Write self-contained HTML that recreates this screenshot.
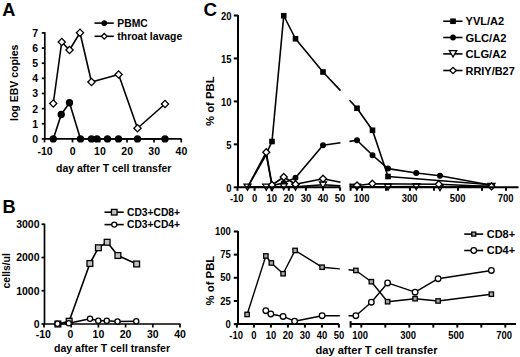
<!DOCTYPE html>
<html><head><meta charset="utf-8"><title>Figure</title>
<style>
html,body{margin:0;padding:0;background:#fff;}
body{width:520px;height:357px;overflow:hidden;font-family:'Liberation Sans', sans-serif;}
svg{display:block;}
svg text{font-family:'Liberation Sans',sans-serif;fill:#000;}
</style></head><body>
<svg width="520" height="357" viewBox="0 0 520 357">
<rect width="520" height="357" fill="#fff"/>
<text x="2.30" y="15.60" font-size="18.2" font-weight="bold" text-anchor="start">A</text>
<line x1="44.80" y1="32.12" x2="44.80" y2="139.70" stroke="#000" stroke-width="1.7"/>
<line x1="44.20" y1="138.90" x2="181.50" y2="138.90" stroke="#000" stroke-width="1.7"/>
<line x1="41.80" y1="138.90" x2="44.80" y2="138.90" stroke="#000" stroke-width="1.7"/>
<text x="38.00" y="142.86" font-size="10.5" font-weight="bold" text-anchor="end">0</text>
<line x1="41.80" y1="123.76" x2="44.80" y2="123.76" stroke="#000" stroke-width="1.7"/>
<text x="38.00" y="127.72" font-size="10.5" font-weight="bold" text-anchor="end">1</text>
<line x1="41.80" y1="108.62" x2="44.80" y2="108.62" stroke="#000" stroke-width="1.7"/>
<text x="38.00" y="112.58" font-size="10.5" font-weight="bold" text-anchor="end">2</text>
<line x1="41.80" y1="93.48" x2="44.80" y2="93.48" stroke="#000" stroke-width="1.7"/>
<text x="38.00" y="97.44" font-size="10.5" font-weight="bold" text-anchor="end">3</text>
<line x1="41.80" y1="78.34" x2="44.80" y2="78.34" stroke="#000" stroke-width="1.7"/>
<text x="38.00" y="82.30" font-size="10.5" font-weight="bold" text-anchor="end">4</text>
<line x1="41.80" y1="63.20" x2="44.80" y2="63.20" stroke="#000" stroke-width="1.7"/>
<text x="38.00" y="67.16" font-size="10.5" font-weight="bold" text-anchor="end">5</text>
<line x1="41.80" y1="48.06" x2="44.80" y2="48.06" stroke="#000" stroke-width="1.7"/>
<text x="38.00" y="52.02" font-size="10.5" font-weight="bold" text-anchor="end">6</text>
<line x1="41.80" y1="32.92" x2="44.80" y2="32.92" stroke="#000" stroke-width="1.7"/>
<text x="38.00" y="36.88" font-size="10.5" font-weight="bold" text-anchor="end">7</text>
<line x1="44.50" y1="138.90" x2="44.50" y2="142.40" stroke="#000" stroke-width="1.7"/>
<text x="45.00" y="154.96" font-size="10.5" font-weight="bold" text-anchor="middle">-10</text>
<line x1="72.50" y1="138.90" x2="72.50" y2="142.40" stroke="#000" stroke-width="1.7"/>
<text x="72.70" y="154.96" font-size="10.5" font-weight="bold" text-anchor="middle">0</text>
<line x1="99.75" y1="138.90" x2="99.75" y2="142.40" stroke="#000" stroke-width="1.7"/>
<text x="99.95" y="154.96" font-size="10.5" font-weight="bold" text-anchor="middle">10</text>
<line x1="127.00" y1="138.90" x2="127.00" y2="142.40" stroke="#000" stroke-width="1.7"/>
<text x="127.20" y="154.96" font-size="10.5" font-weight="bold" text-anchor="middle">20</text>
<line x1="154.00" y1="138.90" x2="154.00" y2="142.40" stroke="#000" stroke-width="1.7"/>
<text x="154.20" y="154.96" font-size="10.5" font-weight="bold" text-anchor="middle">30</text>
<line x1="181.25" y1="138.90" x2="181.25" y2="142.40" stroke="#000" stroke-width="1.7"/>
<text x="181.45" y="154.96" font-size="10.5" font-weight="bold" text-anchor="middle">40</text>
<text x="113.70" y="172.00" font-size="10.3" font-weight="bold" text-anchor="middle" textLength="115.2" lengthAdjust="spacingAndGlyphs">day after T cell transfer</text>
<text x="17.60" y="82.80" font-size="10.4" font-weight="bold" text-anchor="middle" textLength="76.5" lengthAdjust="spacingAndGlyphs" transform="rotate(-90 17.60 82.80)">log EBV copies</text>
<polyline points="53.25,103.50 61.75,42.00 69.50,50.00 80.00,32.75 91.50,82.00 118.60,74.50 137.50,128.25 165.00,104.00" fill="none" stroke="#000" stroke-width="1.6" stroke-linejoin="round"/>
<polyline points="53.25,138.90 61.25,114.50 69.50,102.75 80.50,138.90 91.50,138.90 97.00,138.90 107.50,138.90 118.50,138.90 137.50,138.90 165.00,138.90" fill="none" stroke="#000" stroke-width="1.6" stroke-linejoin="round"/>
<circle cx="53.25" cy="138.90" r="3.0" fill="#000" stroke="#000" stroke-width="1.3"/>
<circle cx="61.25" cy="114.50" r="3.0" fill="#000" stroke="#000" stroke-width="1.3"/>
<circle cx="69.50" cy="102.75" r="3.0" fill="#000" stroke="#000" stroke-width="1.3"/>
<circle cx="80.50" cy="138.90" r="3.0" fill="#000" stroke="#000" stroke-width="1.3"/>
<circle cx="91.50" cy="138.90" r="3.0" fill="#000" stroke="#000" stroke-width="1.3"/>
<circle cx="97.00" cy="138.90" r="3.0" fill="#000" stroke="#000" stroke-width="1.3"/>
<circle cx="107.50" cy="138.90" r="3.0" fill="#000" stroke="#000" stroke-width="1.3"/>
<circle cx="118.50" cy="138.90" r="3.0" fill="#000" stroke="#000" stroke-width="1.3"/>
<circle cx="137.50" cy="138.90" r="3.0" fill="#000" stroke="#000" stroke-width="1.3"/>
<circle cx="165.00" cy="138.90" r="3.0" fill="#000" stroke="#000" stroke-width="1.3"/>
<polygon points="49.65,103.50 53.25,99.90 56.85,103.50 53.25,107.10" fill="#fff" stroke="#000" stroke-width="1.3"/>
<polygon points="58.15,42.00 61.75,38.40 65.35,42.00 61.75,45.60" fill="#fff" stroke="#000" stroke-width="1.3"/>
<polygon points="65.90,50.00 69.50,46.40 73.10,50.00 69.50,53.60" fill="#fff" stroke="#000" stroke-width="1.3"/>
<polygon points="76.40,32.75 80.00,29.15 83.60,32.75 80.00,36.35" fill="#fff" stroke="#000" stroke-width="1.3"/>
<polygon points="87.90,82.00 91.50,78.40 95.10,82.00 91.50,85.60" fill="#fff" stroke="#000" stroke-width="1.3"/>
<polygon points="115.00,74.50 118.60,70.90 122.20,74.50 118.60,78.10" fill="#fff" stroke="#000" stroke-width="1.3"/>
<polygon points="133.90,128.25 137.50,124.65 141.10,128.25 137.50,131.85" fill="#fff" stroke="#000" stroke-width="1.3"/>
<polygon points="161.40,104.00 165.00,100.40 168.60,104.00 165.00,107.60" fill="#fff" stroke="#000" stroke-width="1.3"/>
<line x1="94.50" y1="23.10" x2="113.75" y2="23.10" stroke="#000" stroke-width="1.6"/>
<circle cx="104.25" cy="23.10" r="2.25" fill="#000" stroke="#000" stroke-width="1.3"/>
<text x="117.30" y="26.82" font-size="10.4" font-weight="bold" text-anchor="start" textLength="30.5" lengthAdjust="spacingAndGlyphs">PBMC</text>
<line x1="94.50" y1="36.30" x2="113.75" y2="36.30" stroke="#000" stroke-width="1.6"/>
<polygon points="101.45,36.30 104.25,33.50 107.05,36.30 104.25,39.10" fill="#fff" stroke="#000" stroke-width="1.3"/>
<text x="117.30" y="40.02" font-size="10.4" font-weight="bold" text-anchor="start" textLength="65" lengthAdjust="spacingAndGlyphs">throat lavage</text>
<text x="2.60" y="212.60" font-size="18.2" font-weight="bold" text-anchor="start">B</text>
<line x1="44.50" y1="223.65" x2="44.50" y2="324.60" stroke="#000" stroke-width="1.7"/>
<line x1="43.90" y1="324.00" x2="180.50" y2="324.00" stroke="#000" stroke-width="1.7"/>
<line x1="41.50" y1="324.00" x2="44.50" y2="324.00" stroke="#000" stroke-width="1.7"/>
<text x="39.50" y="327.76" font-size="10.5" font-weight="bold" text-anchor="end">0</text>
<line x1="41.50" y1="290.75" x2="44.50" y2="290.75" stroke="#000" stroke-width="1.7"/>
<text x="39.50" y="294.51" font-size="10.5" font-weight="bold" text-anchor="end">1000</text>
<line x1="41.50" y1="257.50" x2="44.50" y2="257.50" stroke="#000" stroke-width="1.7"/>
<text x="39.50" y="261.26" font-size="10.5" font-weight="bold" text-anchor="end">2000</text>
<line x1="41.50" y1="224.25" x2="44.50" y2="224.25" stroke="#000" stroke-width="1.7"/>
<text x="39.50" y="228.01" font-size="10.5" font-weight="bold" text-anchor="end">3000</text>
<line x1="44.00" y1="324.00" x2="44.00" y2="327.50" stroke="#000" stroke-width="1.7"/>
<text x="43.30" y="338.26" font-size="10.5" font-weight="bold" text-anchor="middle">-10</text>
<line x1="71.20" y1="324.00" x2="71.20" y2="327.50" stroke="#000" stroke-width="1.7"/>
<text x="70.30" y="338.26" font-size="10.5" font-weight="bold" text-anchor="middle">0</text>
<line x1="98.40" y1="324.00" x2="98.40" y2="327.50" stroke="#000" stroke-width="1.7"/>
<text x="98.40" y="338.26" font-size="10.5" font-weight="bold" text-anchor="middle">10</text>
<line x1="125.60" y1="324.00" x2="125.60" y2="327.50" stroke="#000" stroke-width="1.7"/>
<text x="125.60" y="338.26" font-size="10.5" font-weight="bold" text-anchor="middle">20</text>
<line x1="152.80" y1="324.00" x2="152.80" y2="327.50" stroke="#000" stroke-width="1.7"/>
<text x="152.80" y="338.26" font-size="10.5" font-weight="bold" text-anchor="middle">30</text>
<line x1="180.00" y1="324.00" x2="180.00" y2="327.50" stroke="#000" stroke-width="1.7"/>
<text x="180.00" y="338.26" font-size="10.5" font-weight="bold" text-anchor="middle">40</text>
<text x="112.00" y="351.80" font-size="10.3" font-weight="bold" text-anchor="middle" textLength="116" lengthAdjust="spacingAndGlyphs">day after T cell transfer</text>
<text x="10.20" y="270.80" font-size="10.4" font-weight="bold" text-anchor="middle" textLength="35.3" lengthAdjust="spacingAndGlyphs" transform="rotate(-90 10.20 270.80)">cells/ul</text>
<polyline points="57.90,324.00 69.15,321.25 89.90,263.50 98.40,247.75 107.15,242.25 117.90,255.50 136.65,264.00" fill="none" stroke="#000" stroke-width="1.6" stroke-linejoin="round"/>
<rect x="55.00" y="321.10" width="5.8" height="5.8" fill="#c0c0c0" stroke="#000" stroke-width="1.3"/>
<rect x="66.25" y="318.35" width="5.8" height="5.8" fill="#c0c0c0" stroke="#000" stroke-width="1.3"/>
<rect x="87.00" y="260.60" width="5.8" height="5.8" fill="#c0c0c0" stroke="#000" stroke-width="1.3"/>
<rect x="95.50" y="244.85" width="5.8" height="5.8" fill="#c0c0c0" stroke="#000" stroke-width="1.3"/>
<rect x="104.25" y="239.35" width="5.8" height="5.8" fill="#c0c0c0" stroke="#000" stroke-width="1.3"/>
<rect x="115.00" y="252.60" width="5.8" height="5.8" fill="#c0c0c0" stroke="#000" stroke-width="1.3"/>
<rect x="133.75" y="261.10" width="5.8" height="5.8" fill="#c0c0c0" stroke="#000" stroke-width="1.3"/>
<polyline points="57.50,323.70 68.75,323.25 90.00,318.75 98.25,320.75 106.75,320.75 117.50,321.50 136.25,321.25" fill="none" stroke="#000" stroke-width="1.6" stroke-linejoin="round"/>
<circle cx="57.50" cy="323.70" r="2.6" fill="#fff" stroke="#000" stroke-width="1.3"/>
<circle cx="68.75" cy="323.25" r="2.6" fill="#fff" stroke="#000" stroke-width="1.3"/>
<circle cx="90.00" cy="318.75" r="2.6" fill="#fff" stroke="#000" stroke-width="1.3"/>
<circle cx="98.25" cy="320.75" r="2.6" fill="#fff" stroke="#000" stroke-width="1.3"/>
<circle cx="106.75" cy="320.75" r="2.6" fill="#fff" stroke="#000" stroke-width="1.3"/>
<circle cx="117.50" cy="321.50" r="2.6" fill="#fff" stroke="#000" stroke-width="1.3"/>
<circle cx="136.25" cy="321.25" r="2.6" fill="#fff" stroke="#000" stroke-width="1.3"/>
<line x1="104.50" y1="212.20" x2="123.75" y2="212.20" stroke="#000" stroke-width="1.6"/>
<rect x="111.45" y="209.40" width="5.6" height="5.6" fill="#c0c0c0" stroke="#000" stroke-width="1.3"/>
<text x="127.00" y="216.09" font-size="10.3" font-weight="bold" text-anchor="start" textLength="53" lengthAdjust="spacingAndGlyphs">CD3+CD8+</text>
<line x1="104.50" y1="224.60" x2="123.75" y2="224.60" stroke="#000" stroke-width="1.6"/>
<circle cx="114.25" cy="224.60" r="2.5" fill="#fff" stroke="#000" stroke-width="1.3"/>
<text x="127.00" y="228.49" font-size="10.3" font-weight="bold" text-anchor="start" textLength="53" lengthAdjust="spacingAndGlyphs">CD3+CD4+</text>
<text x="203.50" y="15.70" font-size="18.8" font-weight="bold" text-anchor="start">C</text>
<line x1="238.00" y1="14.90" x2="238.00" y2="187.90" stroke="#000" stroke-width="2.0"/>
<line x1="233.80" y1="187.30" x2="238.00" y2="187.30" stroke="#000" stroke-width="2.0"/>
<text transform="translate(231.50 191.56) scale(0.9 1)" font-size="10.5" font-weight="bold" text-anchor="end">0</text>
<line x1="233.80" y1="144.35" x2="238.00" y2="144.35" stroke="#000" stroke-width="2.0"/>
<text transform="translate(231.50 148.61) scale(0.9 1)" font-size="10.5" font-weight="bold" text-anchor="end">5</text>
<line x1="233.80" y1="101.40" x2="238.00" y2="101.40" stroke="#000" stroke-width="2.0"/>
<text transform="translate(231.50 105.66) scale(0.9 1)" font-size="10.5" font-weight="bold" text-anchor="end">10</text>
<line x1="233.80" y1="58.45" x2="238.00" y2="58.45" stroke="#000" stroke-width="2.0"/>
<text transform="translate(231.50 62.71) scale(0.9 1)" font-size="10.5" font-weight="bold" text-anchor="end">15</text>
<line x1="233.80" y1="15.50" x2="238.00" y2="15.50" stroke="#000" stroke-width="2.0"/>
<text transform="translate(231.50 19.76) scale(0.9 1)" font-size="10.5" font-weight="bold" text-anchor="end">20</text>
<line x1="237.50" y1="187.30" x2="237.50" y2="190.80" stroke="#000" stroke-width="2.0"/>
<text transform="translate(236.70 202.16) scale(0.9 1)" font-size="10.5" font-weight="bold" text-anchor="middle">-10</text>
<line x1="254.60" y1="187.30" x2="254.60" y2="190.80" stroke="#000" stroke-width="2.0"/>
<text transform="translate(254.60 202.16) scale(0.9 1)" font-size="10.5" font-weight="bold" text-anchor="middle">0</text>
<line x1="271.70" y1="187.30" x2="271.70" y2="190.80" stroke="#000" stroke-width="2.0"/>
<text transform="translate(271.70 202.16) scale(0.9 1)" font-size="10.5" font-weight="bold" text-anchor="middle">10</text>
<line x1="288.80" y1="187.30" x2="288.80" y2="190.80" stroke="#000" stroke-width="2.0"/>
<text transform="translate(288.80 202.16) scale(0.9 1)" font-size="10.5" font-weight="bold" text-anchor="middle">20</text>
<line x1="305.90" y1="187.30" x2="305.90" y2="190.80" stroke="#000" stroke-width="2.0"/>
<text transform="translate(305.90 202.16) scale(0.9 1)" font-size="10.5" font-weight="bold" text-anchor="middle">30</text>
<line x1="323.00" y1="187.30" x2="323.00" y2="190.80" stroke="#000" stroke-width="2.0"/>
<text transform="translate(323.00 202.16) scale(0.9 1)" font-size="10.5" font-weight="bold" text-anchor="middle">40</text>
<line x1="340.10" y1="187.30" x2="340.10" y2="190.80" stroke="#000" stroke-width="2.0"/>
<text transform="translate(340.10 202.16) scale(0.9 1)" font-size="10.5" font-weight="bold" text-anchor="middle">50</text>
<line x1="350.60" y1="184.30" x2="350.60" y2="190.80" stroke="#000" stroke-width="2.0"/>
<line x1="362.00" y1="187.30" x2="362.00" y2="190.80" stroke="#000" stroke-width="2.0"/>
<text transform="translate(361.50 202.16) scale(0.9 1)" font-size="10.5" font-weight="bold" text-anchor="middle">100</text>
<line x1="386.00" y1="187.30" x2="386.00" y2="190.80" stroke="#000" stroke-width="2.0"/>
<line x1="410.00" y1="187.30" x2="410.00" y2="190.80" stroke="#000" stroke-width="2.0"/>
<text transform="translate(409.50 202.16) scale(0.9 1)" font-size="10.5" font-weight="bold" text-anchor="middle">300</text>
<line x1="434.00" y1="187.30" x2="434.00" y2="190.80" stroke="#000" stroke-width="2.0"/>
<line x1="458.00" y1="187.30" x2="458.00" y2="190.80" stroke="#000" stroke-width="2.0"/>
<text transform="translate(457.50 202.16) scale(0.9 1)" font-size="10.5" font-weight="bold" text-anchor="middle">500</text>
<line x1="482.00" y1="187.30" x2="482.00" y2="190.80" stroke="#000" stroke-width="2.0"/>
<line x1="506.00" y1="187.30" x2="506.00" y2="190.80" stroke="#000" stroke-width="2.0"/>
<text transform="translate(505.50 202.16) scale(0.9 1)" font-size="10.5" font-weight="bold" text-anchor="middle">700</text>
<text x="214.30" y="101.20" font-size="10.8" font-weight="bold" text-anchor="middle" textLength="49.6" lengthAdjust="spacingAndGlyphs" transform="rotate(-90 214.30 101.20)">% of PBL</text>
<polyline points="266.25,153.80 272.00,141.50 283.75,15.75 295.50,38.75 323.00,72.00 340.50,90.66" fill="none" stroke="#000" stroke-width="1.6" stroke-linejoin="round"/>
<polyline points="349.50,100.25 357.00,108.25 372.50,130.25 388.00,176.50 491.50,184.70" fill="none" stroke="#000" stroke-width="1.6" stroke-linejoin="round"/>
<rect x="269.85" y="139.35" width="4.3" height="4.3" fill="#000" stroke="#000" stroke-width="1.3"/>
<rect x="281.60" y="13.60" width="4.3" height="4.3" fill="#000" stroke="#000" stroke-width="1.3"/>
<rect x="293.35" y="36.60" width="4.3" height="4.3" fill="#000" stroke="#000" stroke-width="1.3"/>
<rect x="320.85" y="69.85" width="4.3" height="4.3" fill="#000" stroke="#000" stroke-width="1.3"/>
<rect x="354.85" y="106.10" width="4.3" height="4.3" fill="#000" stroke="#000" stroke-width="1.3"/>
<rect x="370.35" y="128.10" width="4.3" height="4.3" fill="#000" stroke="#000" stroke-width="1.3"/>
<rect x="385.85" y="174.35" width="4.3" height="4.3" fill="#000" stroke="#000" stroke-width="1.3"/>
<polyline points="247.50,187.30 266.25,154.66 272.00,185.58 283.75,183.01 295.50,177.85 323.00,145.25 340.50,142.68" fill="none" stroke="#000" stroke-width="1.6" stroke-linejoin="round"/>
<polyline points="349.50,141.35 357.00,140.25 372.50,155.25 388.00,168.60 416.25,173.00 440.00,175.80 491.50,185.30" fill="none" stroke="#000" stroke-width="1.6" stroke-linejoin="round"/>
<circle cx="283.75" cy="183.01" r="2.35" fill="#000" stroke="#000" stroke-width="1.3"/>
<circle cx="295.50" cy="177.85" r="2.35" fill="#000" stroke="#000" stroke-width="1.3"/>
<circle cx="323.00" cy="145.25" r="2.35" fill="#000" stroke="#000" stroke-width="1.3"/>
<circle cx="357.00" cy="140.25" r="2.35" fill="#000" stroke="#000" stroke-width="1.3"/>
<circle cx="372.50" cy="155.25" r="2.35" fill="#000" stroke="#000" stroke-width="1.3"/>
<circle cx="388.00" cy="168.60" r="2.35" fill="#000" stroke="#000" stroke-width="1.3"/>
<circle cx="416.25" cy="173.00" r="2.35" fill="#000" stroke="#000" stroke-width="1.3"/>
<circle cx="440.00" cy="175.80" r="2.35" fill="#000" stroke="#000" stroke-width="1.3"/>
<polyline points="247.50,186.87 266.25,186.87 272.00,187.30 283.75,186.44 295.50,186.87 323.00,184.72 340.50,185.83" fill="none" stroke="#000" stroke-width="1.6" stroke-linejoin="round"/>
<polyline points="349.50,186.40 357.00,186.87 388.00,186.87 416.25,186.44 440.00,187.30 491.50,186.01" fill="none" stroke="#000" stroke-width="1.6" stroke-linejoin="round"/>
<polygon points="244.00,184.17 251.00,184.17 247.50,190.17" fill="#fff" stroke="#000" stroke-width="1.3" stroke-linejoin="miter"/>
<polygon points="262.75,184.17 269.75,184.17 266.25,190.17" fill="#fff" stroke="#000" stroke-width="1.3" stroke-linejoin="miter"/>
<polygon points="268.50,184.60 275.50,184.60 272.00,190.60" fill="#fff" stroke="#000" stroke-width="1.3" stroke-linejoin="miter"/>
<polygon points="280.25,183.74 287.25,183.74 283.75,189.74" fill="#fff" stroke="#000" stroke-width="1.3" stroke-linejoin="miter"/>
<polygon points="292.00,184.17 299.00,184.17 295.50,190.17" fill="#fff" stroke="#000" stroke-width="1.3" stroke-linejoin="miter"/>
<polygon points="319.50,182.02 326.50,182.02 323.00,188.02" fill="#fff" stroke="#000" stroke-width="1.3" stroke-linejoin="miter"/>
<polygon points="353.50,184.17 360.50,184.17 357.00,190.17" fill="#fff" stroke="#000" stroke-width="1.3" stroke-linejoin="miter"/>
<polygon points="384.50,184.17 391.50,184.17 388.00,190.17" fill="#fff" stroke="#000" stroke-width="1.3" stroke-linejoin="miter"/>
<polygon points="412.75,183.74 419.75,183.74 416.25,189.74" fill="#fff" stroke="#000" stroke-width="1.3" stroke-linejoin="miter"/>
<polygon points="436.50,184.60 443.50,184.60 440.00,190.60" fill="#fff" stroke="#000" stroke-width="1.3" stroke-linejoin="miter"/>
<polygon points="488.00,183.31 495.00,183.31 491.50,189.31" fill="#fff" stroke="#000" stroke-width="1.3" stroke-linejoin="miter"/>
<polyline points="247.50,187.30 266.25,152.25 272.00,185.00 283.75,177.00 295.50,184.25 323.00,178.75 340.50,182.22" fill="none" stroke="#000" stroke-width="1.6" stroke-linejoin="round"/>
<polyline points="349.50,184.01 357.00,185.50 372.30,183.75 438.75,184.20 491.50,186.44" fill="none" stroke="#000" stroke-width="1.6" stroke-linejoin="round"/>
<polygon points="262.75,152.25 266.25,148.75 269.75,152.25 266.25,155.75" fill="#fff" stroke="#000" stroke-width="1.3"/>
<polygon points="268.50,185.00 272.00,181.50 275.50,185.00 272.00,188.50" fill="#fff" stroke="#000" stroke-width="1.3"/>
<polygon points="280.25,177.00 283.75,173.50 287.25,177.00 283.75,180.50" fill="#fff" stroke="#000" stroke-width="1.3"/>
<polygon points="292.00,184.25 295.50,180.75 299.00,184.25 295.50,187.75" fill="#fff" stroke="#000" stroke-width="1.3"/>
<polygon points="319.50,178.75 323.00,175.25 326.50,178.75 323.00,182.25" fill="#fff" stroke="#000" stroke-width="1.3"/>
<polygon points="353.50,185.50 357.00,182.00 360.50,185.50 357.00,189.00" fill="#fff" stroke="#000" stroke-width="1.3"/>
<polygon points="368.80,183.75 372.30,180.25 375.80,183.75 372.30,187.25" fill="#fff" stroke="#000" stroke-width="1.3"/>
<polygon points="435.25,184.20 438.75,180.70 442.25,184.20 438.75,187.70" fill="#fff" stroke="#000" stroke-width="1.3"/>
<polygon points="488.00,186.44 491.50,182.94 495.00,186.44 491.50,189.94" fill="#fff" stroke="#000" stroke-width="1.3"/>
<line x1="237.40" y1="187.30" x2="340.00" y2="187.30" stroke="#000" stroke-width="2.0"/>
<line x1="350.00" y1="187.30" x2="518.50" y2="187.30" stroke="#000" stroke-width="2.0"/>
<line x1="443.25" y1="21.25" x2="462.50" y2="21.25" stroke="#000" stroke-width="1.6"/>
<rect x="450.85" y="19.10" width="4.3" height="4.3" fill="#000" stroke="#000" stroke-width="1.3"/>
<line x1="443.25" y1="37.50" x2="462.50" y2="37.50" stroke="#000" stroke-width="1.6"/>
<circle cx="453.00" cy="37.50" r="2.25" fill="#000" stroke="#000" stroke-width="1.3"/>
<line x1="443.25" y1="53.90" x2="462.50" y2="53.90" stroke="#000" stroke-width="1.6"/>
<polygon points="449.30,50.62 456.70,50.62 453.00,57.02" fill="#fff" stroke="#000" stroke-width="1.3" stroke-linejoin="miter"/>
<line x1="443.25" y1="70.50" x2="462.50" y2="70.50" stroke="#000" stroke-width="1.6"/>
<polygon points="449.80,70.50 453.00,67.30 456.20,70.50 453.00,73.70" fill="#fff" stroke="#000" stroke-width="1.3"/>
<text x="465.50" y="25.39" font-size="11" font-weight="bold" text-anchor="start" textLength="38.75" lengthAdjust="spacingAndGlyphs">YVL/A2</text>
<text x="465.50" y="41.64" font-size="11" font-weight="bold" text-anchor="start" textLength="41.0" lengthAdjust="spacingAndGlyphs">GLC/A2</text>
<text x="465.50" y="58.04" font-size="11" font-weight="bold" text-anchor="start" textLength="41.0" lengthAdjust="spacingAndGlyphs">CLG/A2</text>
<text x="465.50" y="74.64" font-size="11" font-weight="bold" text-anchor="start" textLength="49.25" lengthAdjust="spacingAndGlyphs">RRIY/B27</text>
<g transform="translate(0,0.5)">
<line x1="238.00" y1="230.40" x2="238.00" y2="324.20" stroke="#000" stroke-width="2.0"/>
<line x1="237.40" y1="323.60" x2="338.90" y2="323.60" stroke="#000" stroke-width="2.0"/>
<line x1="350.00" y1="323.60" x2="516.00" y2="323.60" stroke="#000" stroke-width="2.0"/>
<line x1="233.80" y1="323.60" x2="238.00" y2="323.60" stroke="#000" stroke-width="2.0"/>
<text transform="translate(230.80 327.26) scale(0.9 1)" font-size="10.5" font-weight="bold" text-anchor="end">0</text>
<line x1="233.80" y1="300.45" x2="238.00" y2="300.45" stroke="#000" stroke-width="2.0"/>
<text transform="translate(230.80 304.11) scale(0.9 1)" font-size="10.5" font-weight="bold" text-anchor="end">25</text>
<line x1="233.80" y1="277.30" x2="238.00" y2="277.30" stroke="#000" stroke-width="2.0"/>
<text transform="translate(230.80 280.96) scale(0.9 1)" font-size="10.5" font-weight="bold" text-anchor="end">50</text>
<line x1="233.80" y1="254.15" x2="238.00" y2="254.15" stroke="#000" stroke-width="2.0"/>
<text transform="translate(230.80 257.81) scale(0.9 1)" font-size="10.5" font-weight="bold" text-anchor="end">75</text>
<line x1="233.80" y1="231.00" x2="238.00" y2="231.00" stroke="#000" stroke-width="2.0"/>
<text transform="translate(230.80 234.66) scale(0.9 1)" font-size="10.5" font-weight="bold" text-anchor="end">100</text>
<line x1="236.90" y1="323.60" x2="236.90" y2="327.10" stroke="#000" stroke-width="2.0"/>
<text transform="translate(236.10 338.66) scale(0.9 1)" font-size="10.5" font-weight="bold" text-anchor="middle">-10</text>
<line x1="253.90" y1="323.60" x2="253.90" y2="327.10" stroke="#000" stroke-width="2.0"/>
<text transform="translate(253.90 338.66) scale(0.9 1)" font-size="10.5" font-weight="bold" text-anchor="middle">0</text>
<line x1="270.90" y1="323.60" x2="270.90" y2="327.10" stroke="#000" stroke-width="2.0"/>
<text transform="translate(270.90 338.66) scale(0.9 1)" font-size="10.5" font-weight="bold" text-anchor="middle">10</text>
<line x1="287.90" y1="323.60" x2="287.90" y2="327.10" stroke="#000" stroke-width="2.0"/>
<text transform="translate(287.90 338.66) scale(0.9 1)" font-size="10.5" font-weight="bold" text-anchor="middle">20</text>
<line x1="304.90" y1="323.60" x2="304.90" y2="327.10" stroke="#000" stroke-width="2.0"/>
<text transform="translate(304.90 338.66) scale(0.9 1)" font-size="10.5" font-weight="bold" text-anchor="middle">30</text>
<line x1="321.90" y1="323.60" x2="321.90" y2="327.10" stroke="#000" stroke-width="2.0"/>
<text transform="translate(321.90 338.66) scale(0.9 1)" font-size="10.5" font-weight="bold" text-anchor="middle">40</text>
<line x1="338.90" y1="323.60" x2="338.90" y2="327.10" stroke="#000" stroke-width="2.0"/>
<text transform="translate(338.90 338.66) scale(0.9 1)" font-size="10.5" font-weight="bold" text-anchor="middle">50</text>
<line x1="350.60" y1="320.60" x2="350.60" y2="327.10" stroke="#000" stroke-width="2.0"/>
<line x1="361.30" y1="323.60" x2="361.30" y2="327.10" stroke="#000" stroke-width="2.0"/>
<text transform="translate(360.10 338.66) scale(0.9 1)" font-size="10.5" font-weight="bold" text-anchor="middle">100</text>
<line x1="385.30" y1="323.60" x2="385.30" y2="327.10" stroke="#000" stroke-width="2.0"/>
<line x1="409.30" y1="323.60" x2="409.30" y2="327.10" stroke="#000" stroke-width="2.0"/>
<text transform="translate(408.10 338.66) scale(0.9 1)" font-size="10.5" font-weight="bold" text-anchor="middle">300</text>
<line x1="433.30" y1="323.60" x2="433.30" y2="327.10" stroke="#000" stroke-width="2.0"/>
<line x1="457.30" y1="323.60" x2="457.30" y2="327.10" stroke="#000" stroke-width="2.0"/>
<text transform="translate(456.10 338.66) scale(0.9 1)" font-size="10.5" font-weight="bold" text-anchor="middle">500</text>
<line x1="481.30" y1="323.60" x2="481.30" y2="327.10" stroke="#000" stroke-width="2.0"/>
<line x1="505.30" y1="323.60" x2="505.30" y2="327.10" stroke="#000" stroke-width="2.0"/>
<text transform="translate(504.10 338.66) scale(0.9 1)" font-size="10.5" font-weight="bold" text-anchor="middle">700</text>
<text x="214.10" y="280.10" font-size="10.8" font-weight="bold" text-anchor="middle" textLength="49.6" lengthAdjust="spacingAndGlyphs" transform="rotate(-90 214.10 280.10)">% of PBL</text>
<text x="376.50" y="353.20" font-size="10.7" font-weight="bold" text-anchor="middle" textLength="122" lengthAdjust="spacingAndGlyphs">day after T cell transfer</text>
<polyline points="247.10,313.95 265.85,255.45 271.35,262.45 283.10,273.20 295.10,249.95 322.10,266.70 339.80,268.40" fill="none" stroke="#000" stroke-width="1.4" stroke-linejoin="round"/>
<polyline points="348.50,269.24 355.85,269.95 371.35,281.20 387.60,301.20 415.10,298.20 438.10,300.45 491.35,293.70" fill="none" stroke="#000" stroke-width="1.4" stroke-linejoin="round"/>
<polyline points="265.85,310.20 270.85,313.45 283.10,315.95 294.60,320.70 322.10,315.20 339.80,315.20" fill="none" stroke="#000" stroke-width="1.4" stroke-linejoin="round"/>
<polyline points="348.50,315.20 355.85,315.20 371.35,301.70 387.60,282.45 415.10,291.70 438.10,278.20 491.35,269.95" fill="none" stroke="#000" stroke-width="1.4" stroke-linejoin="round"/>
<rect x="244.90" y="311.75" width="4.4" height="4.4" fill="#a8a8a8" stroke="#000" stroke-width="1.3"/>
<rect x="263.65" y="253.25" width="4.4" height="4.4" fill="#a8a8a8" stroke="#000" stroke-width="1.3"/>
<rect x="269.15" y="260.25" width="4.4" height="4.4" fill="#a8a8a8" stroke="#000" stroke-width="1.3"/>
<rect x="280.90" y="271.00" width="4.4" height="4.4" fill="#a8a8a8" stroke="#000" stroke-width="1.3"/>
<rect x="292.90" y="247.75" width="4.4" height="4.4" fill="#a8a8a8" stroke="#000" stroke-width="1.3"/>
<rect x="319.90" y="264.50" width="4.4" height="4.4" fill="#a8a8a8" stroke="#000" stroke-width="1.3"/>
<rect x="353.65" y="267.75" width="4.4" height="4.4" fill="#a8a8a8" stroke="#000" stroke-width="1.3"/>
<rect x="369.15" y="279.00" width="4.4" height="4.4" fill="#a8a8a8" stroke="#000" stroke-width="1.3"/>
<rect x="385.40" y="299.00" width="4.4" height="4.4" fill="#a8a8a8" stroke="#000" stroke-width="1.3"/>
<rect x="412.90" y="296.00" width="4.4" height="4.4" fill="#a8a8a8" stroke="#000" stroke-width="1.3"/>
<rect x="435.90" y="298.25" width="4.4" height="4.4" fill="#a8a8a8" stroke="#000" stroke-width="1.3"/>
<rect x="489.15" y="291.50" width="4.4" height="4.4" fill="#a8a8a8" stroke="#000" stroke-width="1.3"/>
<circle cx="265.85" cy="310.20" r="2.8" fill="#fff" stroke="#000" stroke-width="1.3"/>
<circle cx="270.85" cy="313.45" r="2.8" fill="#fff" stroke="#000" stroke-width="1.3"/>
<circle cx="283.10" cy="315.95" r="2.8" fill="#fff" stroke="#000" stroke-width="1.3"/>
<circle cx="294.60" cy="320.70" r="2.8" fill="#fff" stroke="#000" stroke-width="1.3"/>
<circle cx="322.10" cy="315.20" r="2.8" fill="#fff" stroke="#000" stroke-width="1.3"/>
<circle cx="355.85" cy="315.20" r="2.8" fill="#fff" stroke="#000" stroke-width="1.3"/>
<circle cx="371.35" cy="301.70" r="2.8" fill="#fff" stroke="#000" stroke-width="1.3"/>
<circle cx="387.60" cy="282.45" r="2.8" fill="#fff" stroke="#000" stroke-width="1.3"/>
<circle cx="415.10" cy="291.70" r="2.8" fill="#fff" stroke="#000" stroke-width="1.3"/>
<circle cx="438.10" cy="278.20" r="2.8" fill="#fff" stroke="#000" stroke-width="1.3"/>
<circle cx="491.35" cy="269.95" r="2.8" fill="#fff" stroke="#000" stroke-width="1.3"/>
<line x1="464.25" y1="233.60" x2="483.25" y2="233.60" stroke="#000" stroke-width="1.6"/>
<rect x="471.75" y="231.60" width="4.0" height="4.0" fill="#a4a4a4" stroke="#000" stroke-width="1.3"/>
<text x="486.75" y="237.34" font-size="11" font-weight="bold" text-anchor="start" textLength="28.3" lengthAdjust="spacingAndGlyphs">CD8+</text>
<line x1="464.25" y1="250.00" x2="483.25" y2="250.00" stroke="#000" stroke-width="1.6"/>
<circle cx="473.75" cy="250.00" r="2.8" fill="#fff" stroke="#000" stroke-width="1.3"/>
<text x="486.75" y="253.54" font-size="11" font-weight="bold" text-anchor="start" textLength="28.3" lengthAdjust="spacingAndGlyphs">CD4+</text>
</g>
</svg>
</body></html>
